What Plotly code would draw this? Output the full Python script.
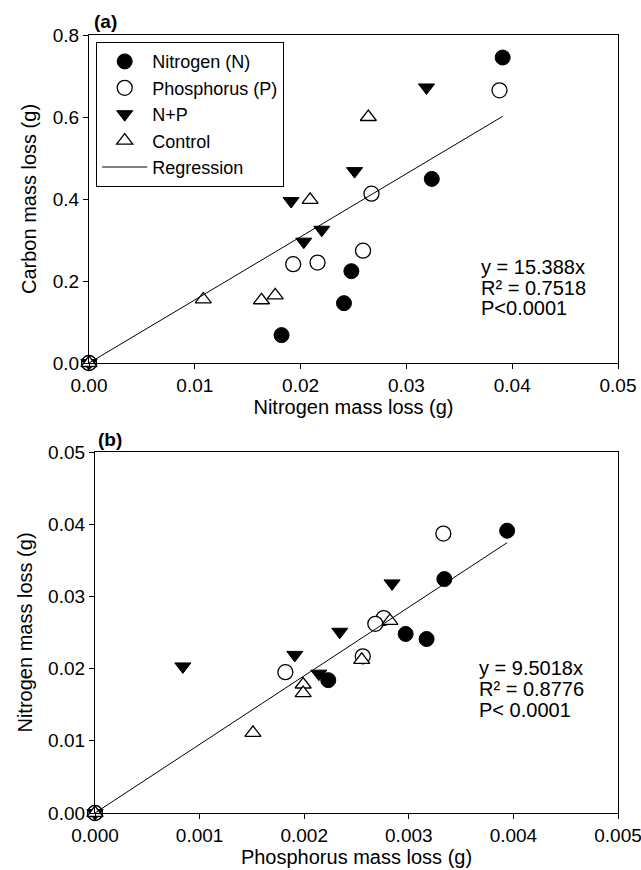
import plotly.graph_objects as go

# ---------------- data ----------------
# Panel (a): Nitrogen mass loss (x) vs Carbon mass loss (y)
a_N_x = [0.0391, 0.0324, 0.0248, 0.0241, 0.0182, 0.0]
a_N_y = [0.745, 0.449, 0.224, 0.146, 0.068, 0.0]
a_P_x = [0.0388, 0.0267, 0.0259, 0.0216, 0.0193, 0.0]
a_P_y = [0.665, 0.413, 0.274, 0.245, 0.241, 0.0]
a_NP_x = [0.0319, 0.0251, 0.0220, 0.0203, 0.0191, 0.0]
a_NP_y = [0.672, 0.468, 0.325, 0.296, 0.395, 0.0]
a_C_x = [0.0264, 0.0209, 0.0108, 0.0176, 0.0163, 0.0]
a_C_y = [0.600, 0.398, 0.155, 0.165, 0.153, 0.0]
a_slope = 15.388
a_stats = ["y = 15.388x", "R² = 0.7518", "P<0.0001"]

# Panel (b): Phosphorus mass loss (x) vs Nitrogen mass loss (y)
b_N_x = [0.00394, 0.00334, 0.00297, 0.00317, 0.00223, 0.0]
b_N_y = [0.0391, 0.0324, 0.0248, 0.0241, 0.0184, 0.0]
b_P_x = [0.00333, 0.00276, 0.00268, 0.00256, 0.00182, 0.0]
b_P_y = [0.0387, 0.0270, 0.0262, 0.0217, 0.0195, 0.0]
b_NP_x = [0.00284, 0.00234, 0.00191, 0.00214, 0.00084, 0.0]
b_NP_y = [0.0318, 0.0251, 0.0219, 0.0193, 0.0203, 0.0]
b_C_x = [0.00282, 0.00255, 0.00199, 0.00199, 0.00151, 0.0]
b_C_y = [0.0266, 0.0212, 0.0178, 0.0166, 0.0111, 0.0]
b_slope = 9.5018
b_stats = ["y = 9.5018x", "R² = 0.8776", "P< 0.0001"]

series_names = ["Nitrogen (N)", "Phosphorus (P)", "N+P", "Control"]
a_tickvals_x = [0, 0.01, 0.02, 0.03, 0.04, 0.05]
a_tickvals_y = [0, 0.2, 0.4, 0.6, 0.8]
b_tickvals_x = [0, 0.001, 0.002, 0.003, 0.004, 0.005]
b_tickvals_y = [0, 0.01, 0.02, 0.03, 0.04, 0.05]

# ---------------- style ----------------
FONT = "Liberation Sans, Arial, sans-serif"
W, H = 641, 870
styles = [
    dict(symbol="circle", size=15, color="black", line=dict(color="black", width=1)),
    dict(symbol="circle", size=15, color="white", line=dict(color="black", width=1.3)),
    dict(symbol="triangle-down", size=14, color="black", line=dict(color="black", width=1)),
    dict(symbol="triangle-up", size=14, color="white", line=dict(color="black", width=1.3)),
]

fig = go.Figure()

panels = [
    ("x", "y", [(a_N_x, a_N_y), (a_P_x, a_P_y), (a_NP_x, a_NP_y), (a_C_x, a_C_y)], a_slope, True),
    ("x2", "y2", [(b_N_x, b_N_y), (b_P_x, b_P_y), (b_NP_x, b_NP_y), (b_C_x, b_C_y)], b_slope, False),
]
for xa, ya, groups, slope, show in panels:
    for name, (xs, ys), st in zip(series_names, groups, styles):
        fig.add_trace(go.Scatter(
            x=xs, y=ys, mode="markers", name=name, legendgroup=name,
            showlegend=show, xaxis=xa, yaxis=ya, cliponaxis=False,
            marker=st,
        ))
    xmax = max(max(g[0]) for g in groups)
    fig.add_trace(go.Scatter(
        x=[0, xmax], y=[0, slope * xmax], mode="lines", name="Regression",
        legendgroup="Regression", showlegend=show, xaxis=xa, yaxis=ya,
        line=dict(color="black", width=1),
    ))

axis_common = dict(
    showline=True, linecolor="black", linewidth=1.2, mirror=True,
    ticks="outside", ticklen=5, tickwidth=1, tickcolor="black",
    showgrid=False, zeroline=False, automargin=False,
    ticklabeloverflow="allow",
    tickfont=dict(family=FONT, size=19, color="black"),
)

def px_x(p):
    return p / W

def px_y(p):
    return 1 - p / H

TF = dict(size=20, family=FONT, color="black")
fig.update_layout(
    template="none",
    width=W, height=H,
    margin=dict(l=0, r=0, t=0, b=0, pad=0),
    paper_bgcolor="white", plot_bgcolor="white",
    font=dict(family=FONT, color="black"),
    xaxis=dict(axis_common, domain=[px_x(89), px_x(618)], anchor="y",
               range=[0, 0.05], tickvals=a_tickvals_x, tickformat=".2f",
               title=dict(text="Nitrogen mass loss (g)", font=TF, standoff=2)),
    yaxis=dict(axis_common, domain=[px_y(363), px_y(35)], anchor="x",
               range=[0, 0.8], tickvals=a_tickvals_y, tickformat=".1f",
               title=dict(text="Carbon mass loss (g)", font=TF, standoff=10)),
    xaxis2=dict(axis_common, domain=[px_x(95), px_x(618)], anchor="y2",
                range=[0, 0.005], tickvals=b_tickvals_x, tickformat=".3f",
                title=dict(text="Phosphorus mass loss (g)", font=TF, standoff=2)),
    yaxis2=dict(axis_common, domain=[px_y(813), px_y(452)], anchor="x2",
                range=[0, 0.05], tickvals=b_tickvals_y, tickformat=".2f",
                title=dict(text="Nitrogen mass loss (g)", font=TF, standoff=10)),
    legend=dict(
        x=px_x(96), y=px_y(42), xanchor="left", yanchor="top",
        bgcolor="white", bordercolor="black", borderwidth=1.2,
        font=dict(family=FONT, size=18, color="black"),
        itemwidth=45, tracegroupgap=0,
    ),
    showlegend=True,
)

annotations = [
    dict(text="<b>(a)</b>", x=px_x(92), y=px_y(21), xref="paper", yref="paper",
         xanchor="left", yanchor="middle", showarrow=False, font=dict(size=19, family=FONT)),
    dict(text="<b>(b)</b>", x=px_x(96), y=px_y(439), xref="paper", yref="paper",
         xanchor="left", yanchor="middle", showarrow=False, font=dict(size=19, family=FONT)),
]
for i, t in enumerate(a_stats):
    annotations.append(dict(text=t, x=px_x(479), y=px_y(267 + 20.5 * i), xref="paper", yref="paper",
                            xanchor="left", yanchor="middle", showarrow=False,
                            font=dict(size=20, family=FONT)))
for i, t in enumerate(b_stats):
    annotations.append(dict(text=t, x=px_x(477), y=px_y(668 + 20.8 * i), xref="paper", yref="paper",
                            xanchor="left", yanchor="middle", showarrow=False,
                            font=dict(size=20, family=FONT)))
fig.update_layout(annotations=annotations)

fig.write_html("out.html")
